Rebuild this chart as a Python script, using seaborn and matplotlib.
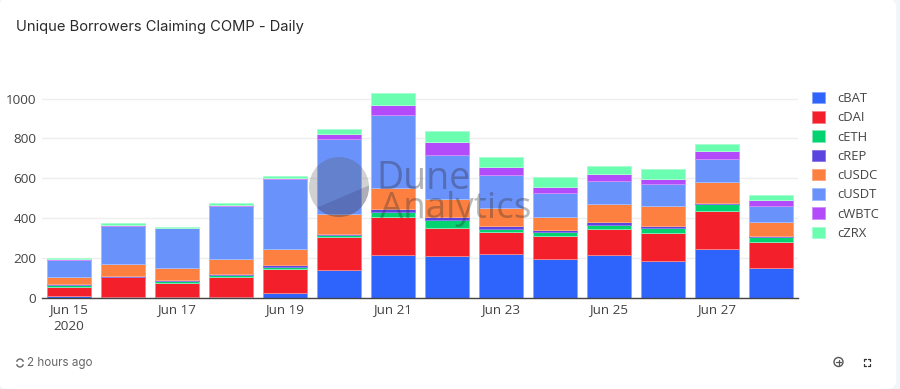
import matplotlib
matplotlib.use('Agg')
import matplotlib.pyplot as plt
from matplotlib.patches import Arc, Circle, FancyBboxPatch, Polygon, Patch
import numpy as np
import pandas as pd
import seaborn as sns

days = ['Jun 15', 'Jun 16', 'Jun 17', 'Jun 18', 'Jun 19', 'Jun 20', 'Jun 21',
        'Jun 22', 'Jun 23', 'Jun 24', 'Jun 25', 'Jun 26', 'Jun 27', 'Jun 28']
tick_labels = ['Jun 15\n2020', '', 'Jun 17', '', 'Jun 19', '', 'Jun 21',
               '', 'Jun 23', '', 'Jun 25', '', 'Jun 27', '']

cBAT = [8, 6, 3, 3, 23, 139, 216, 209, 221, 194, 216, 186, 246, 149]
cDAI = [49, 98, 74, 104, 124, 166, 189, 141, 111, 119, 129, 139, 190, 131]
cETH = [10, 3, 10, 10, 10, 13, 24, 40, 16, 20, 23, 28, 33, 25]
cREP = [5, 5, 5, 5, 9, 5, 15, 14, 14, 7, 11, 10, 8, 8]
cUSDC = [33, 60, 57, 72, 80, 96, 110, 90, 87, 67, 92, 98, 106, 69]
cUSDT = [86, 188, 201, 267, 352, 380, 366, 225, 167, 122, 117, 110, 115, 80]
cWBTC = [3, 8, 3, 3, 3, 22, 48, 63, 41, 27, 35, 24, 37, 27]
cZRX = [9, 9, 5, 10, 9, 27, 60, 57, 51, 50, 39, 50, 37, 29]

names = ['cBAT', 'cDAI', 'cETH', 'cREP', 'cUSDC', 'cUSDT', 'cWBTC', 'cZRX']
colors = ['#2e64fb', '#f3202c', '#02d26f', '#5b45de', '#fe8040', '#6a92fb', '#b44bfb', '#6bfdb0']
edges = ['#86a5fb', '#f6818a', '#7fe8b5', '#8a7de8', '#ffa67f', '#a3bcfc', '#d08dfc', '#a6fed0']

data = pd.DataFrame(dict(zip(names, [cBAT, cDAI, cETH, cREP, cUSDC, cUSDT, cWBTC, cZRX])), index=days)

sns.set_theme(style='white')
plt.rcParams['font.family'] = ['Open Sans', 'DejaVu Sans']
W, H = 900, 389
fig = plt.figure(figsize=(W / 100, H / 100), dpi=100, facecolor='#f2f6f9')

def fx(p):
    return p / W

def fy(p):
    return 1 - p / H

# white card behind everything
fig.add_artist(FancyBboxPatch((fx(6), fy(382)), fx(883), fy(6) - fy(382),
                              boxstyle='round,pad=0,rounding_size=0.001',
                              transform=fig.transFigure, fc='white',
                              ec='white', lw=10, zorder=-5))

ax = fig.add_axes([fx(42), fy(298), fx(756), fy(59.5) - fy(298)])
ax.patch.set_alpha(0)
bottom = np.zeros(len(days))
for name, col, edge in zip(names, colors, edges):
    sns.barplot(x=days, y=data[name].values, bottom=bottom, color=col, saturation=1,
                width=0.8, edgecolor=edge, linewidth=0.7, ax=ax, zorder=3)
    bottom = bottom + data[name].values

ax.set_xlim(-0.5, 13.5)
ax.set_ylim(0, 1196)
ax.set_yticks([0, 200, 400, 600, 800, 1000])
ax.set_xticks(range(len(days)))
ax.set_xticklabels(tick_labels, linespacing=1.35)
ax.tick_params(axis='both', length=0, labelsize=9.7, labelcolor='#444444')
ax.tick_params(axis='x', pad=4)
ax.tick_params(axis='y', pad=4)
ax.yaxis.grid(True, color='#eceef0', lw=1)
ax.set_axisbelow(True)
for s in ['top', 'right', 'left']:
    ax.spines[s].set_visible(False)
ax.spines['bottom'].set_color('#444444')
ax.spines['bottom'].set_linewidth(1)
ax.spines['bottom'].set_zorder(5)

handles = [Patch(facecolor=c, edgecolor=e, lw=0.7, label=n) for n, c, e in zip(names, colors, edges)]
fig.legend(handles=handles, loc='upper left', bbox_to_anchor=(fx(800), fy(80)), frameon=False,
           fontsize=9.4, labelcolor='#444444', handlelength=1.0, handleheight=1.0,
           handletextpad=0.92, labelspacing=0.455, borderpad=0.4)

fig.text(fx(16), fy(27), 'Unique Borrowers Claiming COMP - Daily', fontsize=10.6, color='#2b2b2b',
         va='center', family=['Inter', 'DejaVu Sans'])
fig.text(fx(27), fy(363), '2 hours ago', fontsize=8.4, color='#666666', va='center',
         family=['Inter', 'DejaVu Sans'])

# watermark
overlay = fig.add_axes([0, 0, 1, 1], facecolor='none')
overlay.set_xlim(0, W)
overlay.set_ylim(H, 0)
overlay.axis('off')
overlay.add_patch(Circle((339, 187), 30, fc='#555555', ec='none', alpha=0.27))
wedge = Polygon([(300, 215), (370, 185), (380, 230), (300, 230)], fc='#333366', ec='none', alpha=0.22)
overlay.add_patch(wedge)
wedge.set_clip_path(Circle((339, 187), 30, transform=overlay.transData))
overlay.text(376, 189, 'Dune', fontsize=27, color='#333344', alpha=0.38, va='baseline')
overlay.text(380, 218, 'Analytics', fontsize=26.5, color='#333333', alpha=0.34, va='baseline')

# footer icons
overlay.add_patch(Arc((20, 363), 7, 8, theta1=20, theta2=160, ec='#666666', lw=1))
overlay.add_patch(Arc((20, 363), 7, 8, theta1=200, theta2=340, ec='#666666', lw=1))
overlay.add_patch(Circle((838.5, 362), 4.5, fc='none', ec='#555555', lw=1))
overlay.plot([836, 841], [362, 362], color='#555555', lw=0.9)
overlay.plot([838.5, 838.5], [359.5, 364.5], color='#555555', lw=0.9)
for sx, sy in [(864, 359), (870, 359), (864, 366), (870, 366)]:
    dx = 2 if sx == 864 else -2
    dy = 2 if sy == 359 else -2
    overlay.plot([sx + dx, sx, sx], [sy, sy, sy + dy], color='#333333', lw=0.9)

fig.savefig('out.png', dpi=100, facecolor=fig.get_facecolor())
